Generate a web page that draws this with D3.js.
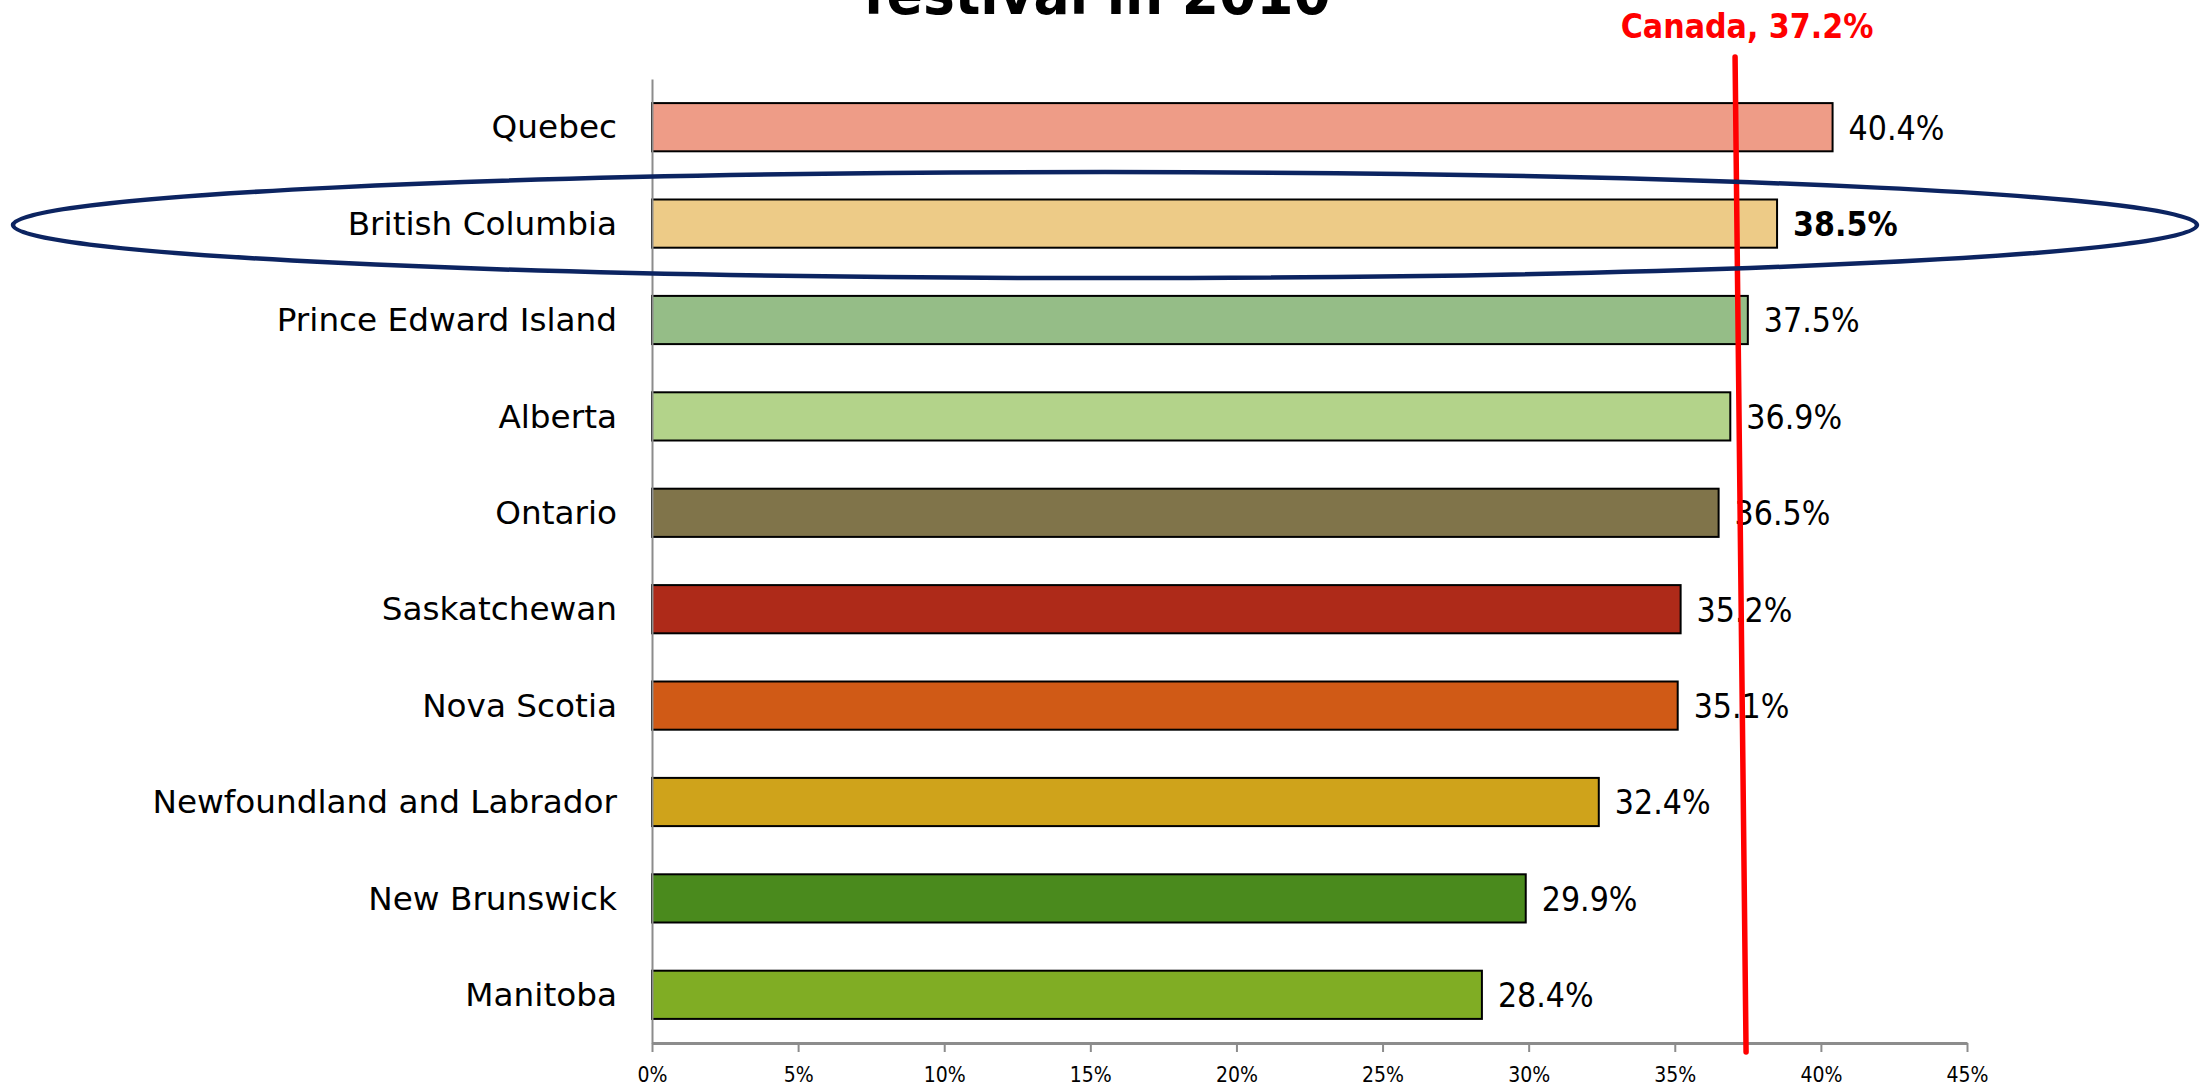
<!DOCTYPE html>
<html>
<head>
<meta charset="utf-8">
<script src="https://cdn.jsdelivr.net/npm/d3@7"></script>
<style>
  html, body { margin: 0; padding: 0; background: #ffffff; }
  svg { display: block; }
</style>
</head>
<body>
<svg id="chart" width="2210" height="1089"></svg>
<script>
// ---- data ----
const categories = ["Quebec", "British Columbia", "Prince Edward Island", "Alberta", "Ontario",
  "Saskatchewan", "Nova Scotia", "Newfoundland and Labrador", "New Brunswick", "Manitoba"];
const values = [40.4, 38.5, 37.5, 36.9, 36.5, 35.2, 35.1, 32.4, 29.9, 28.4];
const barColors = ["#ee9c87", "#edcb87", "#95bd87", "#b3d38a", "#80744a",
  "#ae2a19", "#d05a16", "#cfa31b", "#4a8a1d", "#80ad24"];
const highlighted = "British Columbia";
const canadaValue = 37.2;
const canadaLabel = "Canada, 37.2%";
const xTicks = [0, 5, 10, 15, 20, 25, 30, 35, 40, 45];
const titleText = "festival in 2010";

// ---- layout ----
const svg = d3.select("#chart");
const plotLeft = 652, plotRight = 1967, plotTop = 79, plotBottom = 1043;

const x = d3.scaleLinear().domain([0, 45]).range([plotLeft, plotRight]);
const y = d3.scaleBand().domain(categories).range([plotTop, plotBottom]).paddingInner(0.5).paddingOuter(0.25);

// title (second line, partly cut at the top, as in the original)
svg.append("text")
  .attr("x", 1097).attr("y", 14)
  .attr("text-anchor", "middle")
  .style("font-family", "'DejaVu Sans Condensed', 'DejaVu Sans', sans-serif")
  .style("font-weight", "bold")
  .style("font-size", "59.5px")
  .attr("fill", "#000")
  .text(titleText);

// bars
svg.append("g").selectAll("rect")
  .data(categories)
  .join("rect")
  .attr("x", x(0))
  .attr("y", d => y(d))
  .attr("width", (d, i) => x(values[i]) - x(0))
  .attr("height", y.bandwidth())
  .attr("fill", (d, i) => barColors[i])
  .attr("stroke", "#000")
  .attr("stroke-width", 2);

// value labels
svg.append("g").selectAll("text")
  .data(categories)
  .join("text")
  .attr("x", (d, i) => x(values[i]) + 16)
  .attr("y", d => y(d) + y.bandwidth() / 2)
  .attr("dy", "0.37em")
  .style("font-family", "'DejaVu Sans Condensed', 'DejaVu Sans', sans-serif")
  .style("font-size", "33.5px")
  .style("font-weight", d => d === highlighted ? "bold" : "normal")
  .attr("fill", "#000")
  .text((d, i) => values[i].toFixed(1) + "%");

// y axis
const yAxis = svg.append("g")
  .attr("transform", `translate(${plotLeft},0)`)
  .call(d3.axisLeft(y).tickSize(0).tickPadding(35));
yAxis.select(".domain").attr("stroke", "#8c8c8c").attr("stroke-width", 2);
yAxis.selectAll("text")
  .style("font-family", "'DejaVu Sans', sans-serif")
  .style("font-size", "32.7px")
  .attr("fill", "#000")
  .attr("dy", "0.34em");

// x axis
const xAxis = svg.append("g")
  .attr("transform", `translate(0,${plotBottom})`)
  .call(d3.axisBottom(x).tickValues(xTicks).tickFormat(d => d + "%").tickSize(9).tickSizeOuter(0).tickPadding(15));
xAxis.select(".domain").attr("stroke", "#8c8c8c").attr("stroke-width", 3);
xAxis.selectAll(".tick line").attr("stroke", "#8c8c8c").attr("stroke-width", 2);
xAxis.selectAll("text")
  .style("font-family", "'DejaVu Sans Condensed', 'DejaVu Sans', sans-serif")
  .style("font-size", "21px")
  .attr("fill", "#000");

// Canada reference line (hand-drawn, slightly tilted)
svg.append("line")
  .attr("x1", x(canadaValue) - 4).attr("y1", 57)
  .attr("x2", x(canadaValue) + 7).attr("y2", 1052)
  .attr("stroke", "#ff0000")
  .attr("stroke-width", 5.5)
  .attr("stroke-linecap", "round");

svg.append("text")
  .attr("x", x(canadaValue) + 8).attr("y", 38)
  .attr("text-anchor", "middle")
  .style("font-family", "'DejaVu Sans Condensed', 'DejaVu Sans', sans-serif")
  .style("font-weight", "bold")
  .style("font-size", "33.5px")
  .attr("fill", "#ff0000")
  .text(canadaLabel);

// highlight ellipse around British Columbia
svg.append("ellipse")
  .attr("cx", 1105)
  .attr("cy", y(highlighted) + y.bandwidth() / 2 + 1.5)
  .attr("rx", 1092)
  .attr("ry", 53)
  .attr("fill", "none")
  .attr("stroke", "#0c2461")
  .attr("stroke-width", 4.5);
</script>
</body>
</html>
